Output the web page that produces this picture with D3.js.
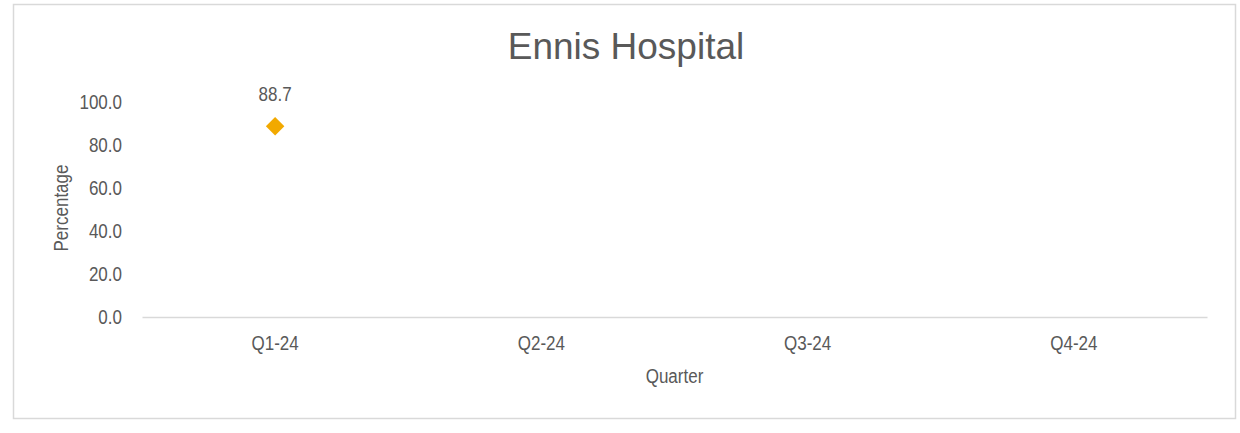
<!DOCTYPE html>
<html>
<head>
<meta charset="utf-8">
<script src="https://cdn.jsdelivr.net/npm/d3@7"></script>
<style>
  body { margin: 0; background: #fff; }
  svg text { font-family: "Liberation Sans", Arial, sans-serif; fill: #595959; }
</style>
</head>
<body>
<div id="chart"></div>
<script>
// Data
const quarters = ["Q1-24", "Q2-24", "Q3-24", "Q4-24"];
const percentValues = [88.7, null, null, null];
const yTicks = [0, 20, 40, 60, 80, 100];
const titleText = "Ennis Hospital";
const xLabelText = "Quarter";
const yLabelText = "Percentage";

const W = 1240, H = 433;
const margin = { top: 102, left: 142, right: 33, bottom: 116 };
const labelSize = "20px";
const squeeze = 0.85; // reference uses a narrow face

const svg = d3.select("#chart")
  .append("svg")
    .attr("width", W)
    .attr("height", H);

// outer frame
svg.append("rect")
  .attr("x", 13.5).attr("y", 4.5)
  .attr("width", 1222).attr("height", 414)
  .attr("fill", "#fff")
  .attr("stroke", "#d9d9d9")
  .attr("stroke-width", 1.5);

const xScale = d3.scaleBand()
  .domain(quarters)
  .range([margin.left, W - margin.right]);

const yScale = d3.scaleLinear()
  .domain([0, 100])
  .range([H - margin.bottom, margin.top]);

// title
svg.append("text")
  .attr("x", 626).attr("y", 59)
  .attr("text-anchor", "middle")
  .style("font-size", "37px")
  .text(titleText);

// y axis labels only
const yAxis = svg.append("g")
  .attr("transform", "translate(" + (margin.left - 20) + ",0)")
  .call(d3.axisLeft(yScale).tickValues(yTicks).tickFormat(d3.format(".1f")).tickSize(0).tickPadding(0));
yAxis.select(".domain").remove();
yAxis.selectAll("text")
  .attr("class", "narrow")
  .style("font-size", labelSize)
  .attr("fill", "#595959");

// x axis
const xAxis = svg.append("g")
  .attr("transform", "translate(0," + yScale(0) + ")")
  .call(d3.axisBottom(xScale).tickSize(0).tickPadding(19));
xAxis.select(".domain")
  .attr("stroke", "#d9d9d9")
  .attr("stroke-width", 1.5);
xAxis.selectAll("text")
  .attr("class", "narrow")
  .style("font-size", labelSize)
  .attr("fill", "#595959");

// axis titles
svg.append("text")
  .attr("class", "narrow")
  .attr("x", (margin.left + W - margin.right) / 2)
  .attr("y", 383)
  .attr("text-anchor", "middle")
  .style("font-size", labelSize)
  .text(xLabelText);

svg.append("text")
  .attr("class", "narrow")
  .attr("transform", "translate(68," + 208 + ") rotate(-90)")
  .attr("text-anchor", "middle")
  .style("font-size", labelSize)
  .text(yLabelText);

// points
const pts = quarters.map((q, i) => ({ q: q, v: percentValues[i] }))
  .filter(d => d.v != null);

const X = d => xScale(d.q) + xScale.bandwidth() / 2;
const Y = d => yScale(d.v);

svg.selectAll(".pt")
  .data(pts)
  .enter()
  .append("path")
    .attr("class", "pt")
    .attr("d", d3.symbol().type(d3.symbolSquare).size(170))
    .attr("transform", d => "translate(" + X(d) + "," + Y(d) + ") rotate(45)")
    .attr("fill", "#f2a900");

svg.selectAll(".pt-label")
  .data(pts)
  .enter()
  .append("text")
    .attr("class", "narrow")
    .attr("x", X)
    .attr("y", d => Y(d) - 25)
    .attr("text-anchor", "middle")
    .style("font-size", labelSize)
    .text(d => d3.format(".1f")(d.v));

// no narrow face installed, so squeeze the glyphs instead
svg.selectAll("text.narrow").each(function () {
  const w = this.getComputedTextLength();
  d3.select(this)
    .attr("textLength", w * squeeze)
    .attr("lengthAdjust", "spacingAndGlyphs");
});
</script>
</body>
</html>
